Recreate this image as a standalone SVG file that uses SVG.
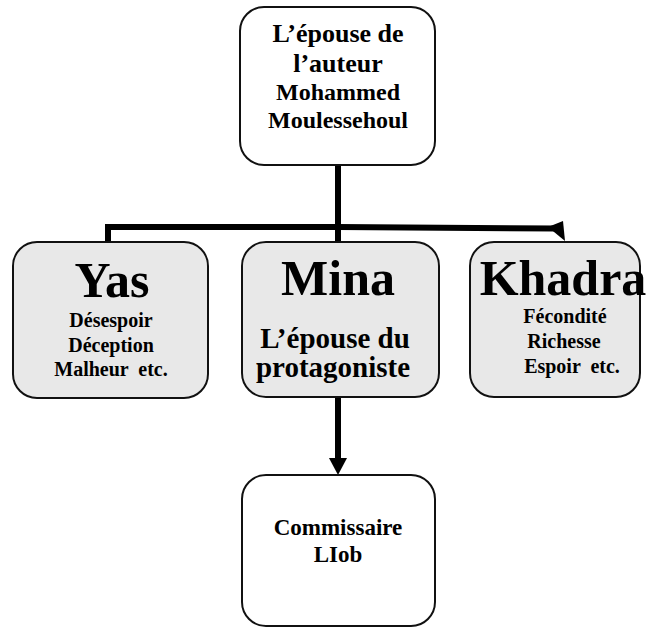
<svg xmlns="http://www.w3.org/2000/svg" width="653" height="630" viewBox="0 0 653 630">
<style>
.box{stroke:#111;stroke-width:2}
.w{fill:#fff}
.g{fill:#e8e8e8}
text{font-family:"Liberation Serif","Times New Roman",serif;font-weight:bold;fill:#000;text-anchor:middle}
.big{font-size:50px}
.c{stroke:#000;stroke-width:6;fill:none}
</style>
<rect width="653" height="630" fill="#fff"/>
<g id="connectors">
<line class="c" x1="338" y1="165" x2="338" y2="243"/>
<polyline class="c" points="108,243 108,227 338,227"/>
<line class="c" x1="338" y1="227" x2="556" y2="228.5"/>
<polygon points="548,227 563,221 565,241" fill="#000"/>
<line class="c" x1="338" y1="397" x2="338" y2="458"/>
<polygon points="329,458 347,458 338,475" fill="#000"/>
</g>
<g id="epouse-auteur">
<rect class="box w" x="240" y="7" width="195" height="158" rx="24"/>
<text x="338" y="42" font-size="26">L’épouse de</text>
<text x="338" y="72" font-size="26">l’auteur</text>
<text x="338" y="100" font-size="24">Mohammed</text>
<text x="338" y="128" font-size="24">Moulessehoul</text>
</g>
<g id="yas">
<rect class="box g" x="13" y="242" width="195" height="156" rx="24"/>
<text class="big" x="112" y="297">Yas</text>
<text x="111" y="327" font-size="20">Désespoir</text>
<text x="111" y="352" font-size="20">Déception</text>
<text x="111" y="376" font-size="20" xml:space="preserve">Malheur  etc.</text>
</g>
<g id="mina">
<rect class="box g" x="242" y="242" width="197" height="155" rx="24"/>
<text class="big" x="338" y="295">Mina</text>
<text x="335" y="348" font-size="29">L’épouse du</text>
<text x="333" y="377" font-size="29">protagoniste</text>
</g>
<g id="khadra">
<rect class="box g" x="470" y="242" width="170" height="155" rx="24"/>
<text class="big" x="563" y="295">Khadra</text>
<text x="565" y="323" font-size="20">Fécondité</text>
<text x="564" y="348" font-size="20">Richesse</text>
<text x="572" y="373" font-size="20" xml:space="preserve">Espoir  etc.</text>
</g>
<g id="commissaire">
<rect class="box w" x="242" y="475" width="193" height="151" rx="24"/>
<text x="338" y="535" font-size="23">Commissaire</text>
<text x="338" y="562" font-size="23">LIob</text>
</g>
</svg>
